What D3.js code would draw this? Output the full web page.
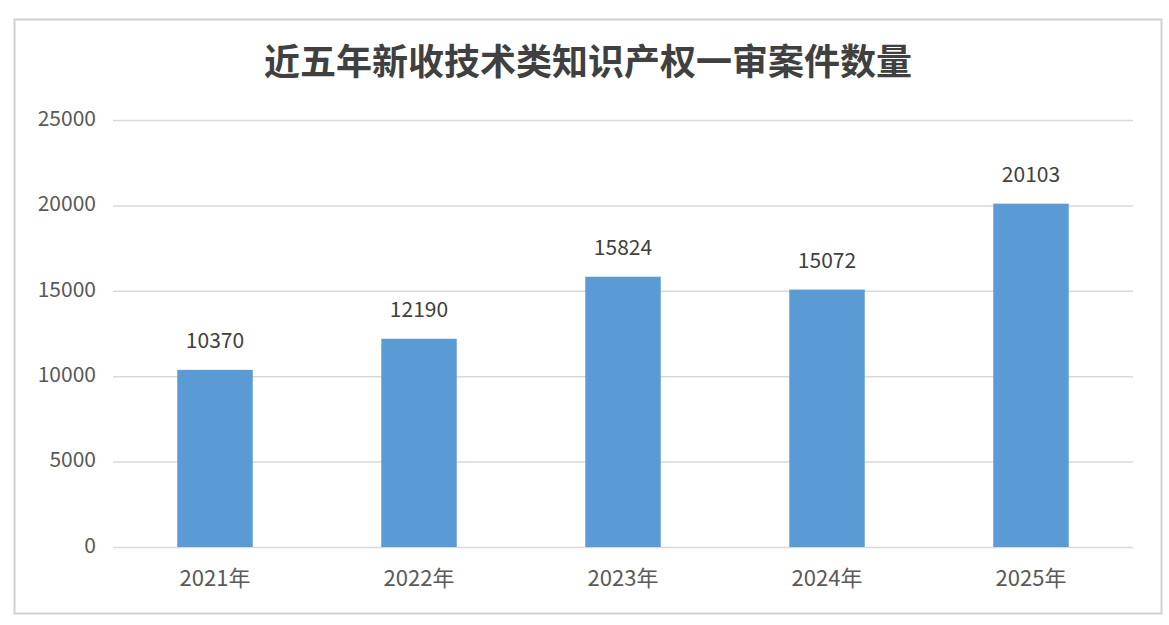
<!DOCTYPE html>
<html>
<head>
<meta charset="utf-8">
<script src="https://cdn.jsdelivr.net/npm/d3@7"></script>
<style>
  body { margin: 0; background: #fff; }
</style>
</head>
<body>
<div id="chart"></div>
<script>
const years = ['2021年', '2022年', '2023年', '2024年', '2025年'];
const cases = [10370, 12190, 15824, 15072, 20103];
const yTicks = [0, 5000, 10000, 15000, 20000, 25000];
const title = '近五年新收技术类知识产权一审案件数量';

const data = years.map((y, i) => ({year: y, value: cases[i]}));

const width = 1169, height = 625;
const margin = {top: 120, right: 36, bottom: 78, left: 113};

const svg = d3.select('#chart').append('svg')
    .attr('width', width)
    .attr('height', height)
    .style('font-family', '"Noto Sans CJK SC", "Open Sans", sans-serif');

// outer frame
svg.append('rect')
    .attr('x', 14.5).attr('y', 19.5)
    .attr('width', 1147).attr('height', 594)
    .attr('fill', '#fff')
    .attr('stroke', '#d0d0d0')
    .attr('stroke-width', 2);

const x = d3.scaleBand()
    .domain(years)
    .range([margin.left, width - margin.right])
    .paddingInner(0.63)
    .paddingOuter(0.315);

const y = d3.scaleLinear()
    .domain([0, 25000])
    .range([height - margin.bottom, margin.top]);

// gridlines
svg.append('g')
    .selectAll('line')
    .data(yTicks)
    .join('line')
    .attr('x1', margin.left)
    .attr('x2', width - margin.right)
    .attr('y1', d => y(d) + 0.5)
    .attr('y2', d => y(d) + 0.5)
    .attr('stroke', '#d9d9d9')
    .attr('stroke-width', 1.5);

// y axis labels
svg.append('g')
    .selectAll('text')
    .data(yTicks)
    .join('text')
    .attr('x', margin.left - 17)
    .attr('y', d => y(d))
    .attr('text-anchor', 'end')
    .attr('dominant-baseline', 'middle')
    .attr('font-size', '21px')
    .attr('fill', '#595959')
    .text(d => d);

// bars
svg.append('g')
    .selectAll('rect')
    .data(data)
    .join('rect')
    .attr('x', d => x(d.year))
    .attr('y', d => y(d.value))
    .attr('width', x.bandwidth())
    .attr('height', d => y(0) - y(d.value))
    .attr('fill', '#5b9bd5');

// value labels
svg.append('g')
    .selectAll('text')
    .data(data)
    .join('text')
    .attr('x', d => x(d.year) + x.bandwidth() / 2)
    .attr('y', d => y(d.value) - 22)
    .attr('text-anchor', 'middle')
    .attr('font-size', '21px')
    .attr('fill', '#404040')
    .text(d => d.value);

// x labels
svg.append('g')
    .selectAll('text')
    .data(years)
    .join('text')
    .attr('x', d => x(d) + x.bandwidth() / 2)
    .attr('y', y(0) + 39)
    .attr('text-anchor', 'middle')
    .attr('font-size', '22px')
    .attr('fill', '#595959')
    .text(d => d);

// title
svg.append('text')
    .attr('x', 588)
    .attr('y', 75)
    .attr('text-anchor', 'middle')
    .attr('font-size', '36px')
    .attr('font-weight', 'bold')
    .attr('fill', '#404040')
    .text(title);
</script>
</body>
</html>
